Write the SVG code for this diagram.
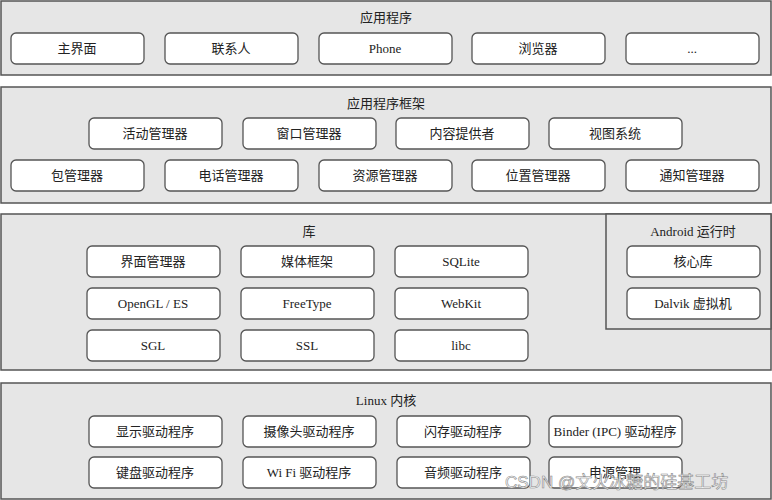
<svg xmlns="http://www.w3.org/2000/svg" width="772" height="500" viewBox="0 0 772 500">
<style>
.layer{fill:#e6e6e6;stroke:#555;stroke-width:1.5}
.b{fill:#fff;stroke:#555;stroke-width:1.3}
text{font-family:"Liberation Serif","Noto Sans CJK SC",serif;font-size:13px;fill:#222;text-anchor:middle}
.wm{font-family:"Liberation Sans","Noto Sans CJK SC",sans-serif;font-size:17px;fill:#fff;stroke:#888;stroke-width:0.6;text-anchor:start}
</style>
<rect width="772" height="500" fill="#fff"/>
<g id="apps">
<rect class="layer" x="1" y="1" width="770" height="74"/>
<text x="386" y="22">应用程序</text>
<rect class="b" x="11" y="33" width="133" height="31" rx="5"/><text x="77" y="53">主界面</text>
<rect class="b" x="165" y="33" width="133" height="31" rx="5"/><text x="231" y="53">联系人</text>
<rect class="b" x="319" y="33" width="133" height="31" rx="5"/><text x="385" y="53">Phone</text>
<rect class="b" x="472" y="33" width="133" height="31" rx="5"/><text x="538" y="53">浏览器</text>
<rect class="b" x="626" y="33" width="133" height="31" rx="5"/><text x="692" y="53">...</text>
</g>
<g id="framework">
<rect class="layer" x="1" y="87" width="770" height="116"/>
<text x="386" y="108">应用程序框架</text>
<rect class="b" x="89" y="118" width="133" height="31" rx="5"/><text x="155" y="138">活动管理器</text>
<rect class="b" x="243" y="118" width="133" height="31" rx="5"/><text x="309" y="138">窗口管理器</text>
<rect class="b" x="396" y="118" width="133" height="31" rx="5"/><text x="462" y="138">内容提供者</text>
<rect class="b" x="549" y="118" width="133" height="31" rx="5"/><text x="615" y="138">视图系统</text>
<rect class="b" x="11" y="160" width="133" height="31" rx="5"/><text x="77" y="180">包管理器</text>
<rect class="b" x="165" y="160" width="133" height="31" rx="5"/><text x="231" y="180">电话管理器</text>
<rect class="b" x="319" y="160" width="133" height="31" rx="5"/><text x="385" y="180">资源管理器</text>
<rect class="b" x="472" y="160" width="133" height="31" rx="5"/><text x="538" y="180">位置管理器</text>
<rect class="b" x="626" y="160" width="133" height="31" rx="5"/><text x="692" y="180">通知管理器</text>
</g>
<g id="libs">
<rect class="layer" x="1" y="214" width="770" height="156"/>
<text x="309" y="236">库</text>
<rect class="b" x="87" y="246" width="133" height="31" rx="5"/><text x="153" y="266">界面管理器</text>
<rect class="b" x="241" y="246" width="133" height="31" rx="5"/><text x="307" y="266">媒体框架</text>
<rect class="b" x="395" y="246" width="133" height="31" rx="5"/><text x="461" y="266">SQLite</text>
<rect class="b" x="87" y="288" width="133" height="31" rx="5"/><text x="153" y="308">OpenGL / ES</text>
<rect class="b" x="241" y="288" width="133" height="31" rx="5"/><text x="307" y="308">FreeType</text>
<rect class="b" x="395" y="288" width="133" height="31" rx="5"/><text x="461" y="308">WebKit</text>
<rect class="b" x="87" y="330" width="133" height="31" rx="5"/><text x="153" y="350">SGL</text>
<rect class="b" x="241" y="330" width="133" height="31" rx="5"/><text x="307" y="350">SSL</text>
<rect class="b" x="395" y="330" width="133" height="31" rx="5"/><text x="461" y="350">libc</text>
</g>
<g id="runtime">
<rect class="layer" x="606" y="214" width="165" height="115"/>
<text x="693" y="236">Android 运行时</text>
<rect class="b" x="627" y="246" width="133" height="31" rx="5"/><text x="693" y="266">核心库</text>
<rect class="b" x="627" y="288" width="133" height="31" rx="5"/><text x="693" y="308">Dalvik 虚拟机</text>
</g>
<g id="kernel">
<rect class="layer" x="1" y="383" width="770" height="116"/>
<text x="386" y="405">Linux 内核</text>
<rect class="b" x="89" y="416" width="133" height="31" rx="5"/><text x="155" y="436">显示驱动程序</text>
<rect class="b" x="243" y="416" width="133" height="31" rx="5"/><text x="309" y="436">摄像头驱动程序</text>
<rect class="b" x="397" y="416" width="133" height="31" rx="5"/><text x="463" y="436">闪存驱动程序</text>
<rect class="b" x="549" y="416" width="133" height="31" rx="5"/><text x="615" y="436">Binder (IPC) 驱动程序</text>
<rect class="b" x="89" y="457" width="133" height="31" rx="5"/><text x="155" y="477">键盘驱动程序</text>
<rect class="b" x="243" y="457" width="133" height="31" rx="5"/><text x="309" y="477">Wi Fi 驱动程序</text>
<rect class="b" x="397" y="457" width="133" height="31" rx="5"/><text x="463" y="477">音频驱动程序</text>
<rect class="b" x="549" y="457" width="133" height="31" rx="5"/><text x="615" y="477">电源管理</text>
</g>
<g id="connectors"></g>
<text class="wm" x="505" y="488">CSDN @文火冰糖的硅基工坊</text>
</svg>
